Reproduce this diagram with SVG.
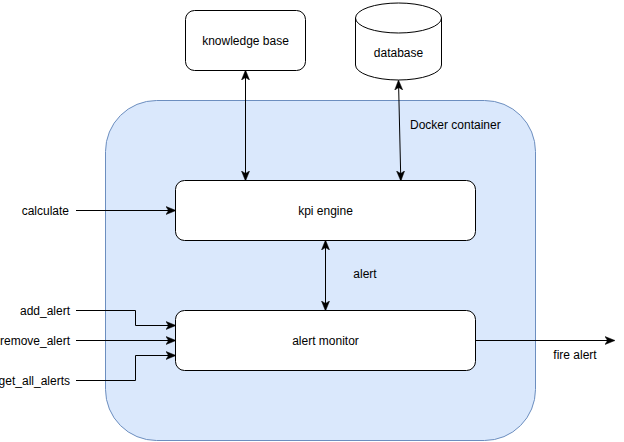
<svg xmlns="http://www.w3.org/2000/svg" width="624" height="442" viewBox="0 0 624 442">
<style>
text{font-family:"Liberation Sans",Arial,sans-serif;font-size:12px;fill:#000}
.box{fill:#fff;stroke:#000;stroke-width:1}
.edge{fill:none;stroke:#000;stroke-width:1}
</style>
<defs>
<marker id="ah" viewBox="0 0 10 10" refX="9" refY="5" markerWidth="10" markerHeight="10" markerUnits="userSpaceOnUse" orient="auto-start-reverse">
<path d="M0,1 L10,5 L0,9 L2.5,5 Z" fill="#000" stroke="#000" stroke-width="0.5"/>
</marker>
</defs>
<rect width="624" height="442" fill="#fff"/>
<g id="docker">
<rect x="105.5" y="100.5" width="430" height="340" rx="51" ry="51" fill="#dae8fc" stroke="#6c8ebf"/>
<text x="410" y="129">Docker container</text>
</g>
<g id="kb">
<rect class="box" x="185.5" y="10.5" width="120" height="60" rx="9"/>
<text x="245.5" y="44.5" text-anchor="middle">knowledge base</text>
</g>
<g id="db">
<path class="box" d="M355.5,18 A43,15 0 0 1 441.5,18 L441.5,65 A43,15 0 0 1 355.5,65 Z"/>
<path class="edge" d="M355.5,18 A43,15 0 0 0 441.5,18"/>
<text x="398.5" y="57" text-anchor="middle">database</text>
</g>
<g id="kpi">
<rect class="box" x="175.5" y="180.5" width="300" height="60" rx="9"/>
<text x="325.5" y="214.5" text-anchor="middle">kpi engine</text>
</g>
<g id="monitor">
<rect class="box" x="175.5" y="310.5" width="300" height="60" rx="9"/>
<text x="325.5" y="344.5" text-anchor="middle">alert monitor</text>
</g>
<g id="connectors">
<path class="edge" d="M245.5,71 L245.5,180" marker-start="url(#ah)" marker-end="url(#ah)"/>
<path class="edge" d="M398.5,81 L400.8,180" marker-start="url(#ah)" marker-end="url(#ah)"/>
<path class="edge" d="M325.5,241 L325.5,310" marker-start="url(#ah)" marker-end="url(#ah)"/>
<path class="edge" d="M76,210.5 L175,210.5" marker-end="url(#ah)"/>
<path class="edge" d="M76,310.5 L135.5,310.5 L135.5,325.5 L175,325.5" marker-end="url(#ah)"/>
<path class="edge" d="M76,340.5 L175,340.5" marker-end="url(#ah)"/>
<path class="edge" d="M76,380.5 L135.5,380.5 L135.5,355.5 L175,355.5" marker-end="url(#ah)"/>
<path class="edge" d="M475.5,340.5 L614,340.5" marker-end="url(#ah)"/>
</g>
<g id="labels">
<text x="365" y="278" text-anchor="middle">alert</text>
<text x="69" y="214.5" text-anchor="end">calculate</text>
<text x="70" y="314.5" text-anchor="end">add_alert</text>
<text x="70" y="344.5" text-anchor="end">remove_alert</text>
<text x="70" y="384.5" text-anchor="end">get_all_alerts</text>
<text x="575" y="359" text-anchor="middle">fire alert</text>
</g>
</svg>
